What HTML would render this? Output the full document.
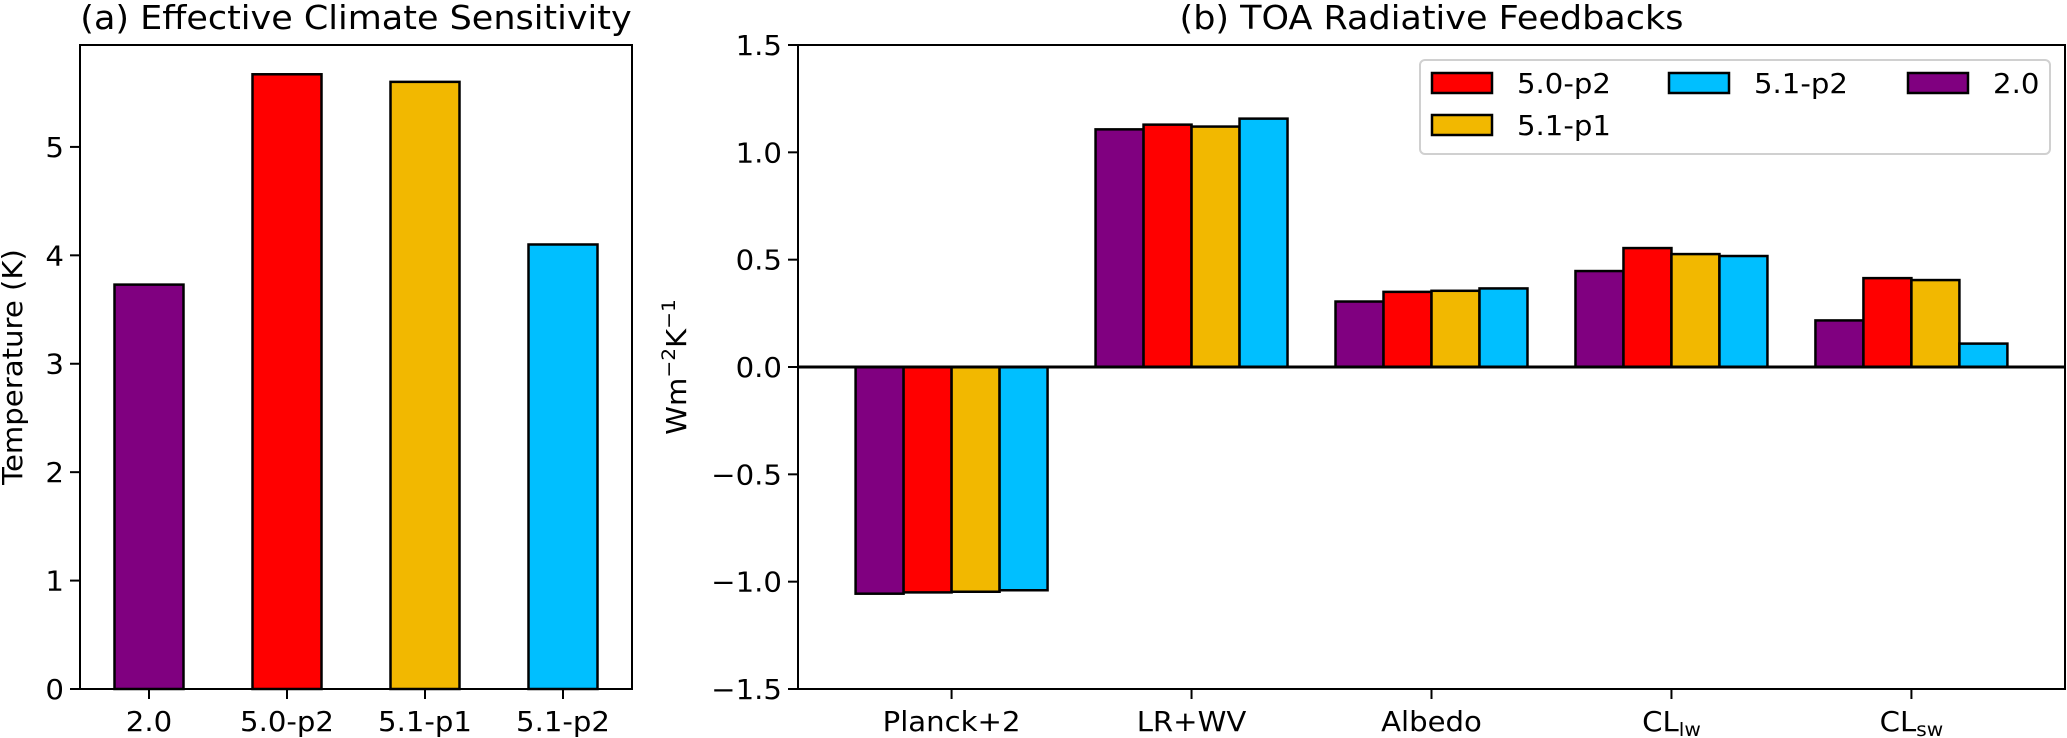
<!DOCTYPE html>
<html><head><meta charset="utf-8"><style>
html,body{margin:0;padding:0;background:#fff}
svg{display:block;font-family:"DejaVu Sans","Liberation Sans",sans-serif}
</style></head><body>
<svg id="fig" width="2067" height="738" xmlns="http://www.w3.org/2000/svg">
<g id="a"></g>
<g id="b"></g>
</svg>
<script>
const ecsCategories = ["2.0","5.0-p2","5.1-p1","5.1-p2"];
const ecsValues = [3.73, 5.67, 5.60, 4.10];
const ecsColors = ["#800080","#ff0000","#f2b800","#00bfff"];
const ecsTicks = [0,1,2,3,4,5];

const fbCategories = ["Planck+2","LR+WV","Albedo","CL_lw","CL_sw"];
const seriesNames = ["2.0","5.0-p2","5.1-p1","5.1-p2"];
const fb20 = [-1.056, 1.107, 0.305, 0.447, 0.217];
const fb50p2 = [-1.05, 1.129, 0.350, 0.554, 0.414];
const fb51p1 = [-1.047, 1.120, 0.355, 0.526, 0.405];
const fb51p2 = [-1.04, 1.157, 0.366, 0.517, 0.109];
const fbTicks = [-1.5,-1.0,-0.5,0.0,0.5,1.0,1.5];
const fbTickLabels = ["\u22121.5","\u22121.0","\u22120.5","0.0","0.5","1.0","1.5"];

const NS="http://www.w3.org/2000/svg";
const stretch=[];
function mk(tag, attrs, parent, text){
  const e=document.createElementNS(NS,tag);
  for(const k in attrs) e.setAttribute(k,attrs[k]);
  if(text!==undefined) e.textContent=text;
  parent.appendChild(e);
  if(tag==='text') stretch.push(e);
  return e;
}
const FS=27.5;
// ---------- Panel A ----------
const A=document.getElementById('a');
const aL=80,aR=632,aT=45,aB=689;
const ax=i=>aL+(i+0.5)/4*(aR-aL);
const ay=v=>aB-v/5.94*(aB-aT);
const bwA=0.5*(aR-aL)/4;
ecsValues.forEach((v,i)=>{
  const r=mk('rect',{x:ax(i)-bwA/2,y:ay(v),width:bwA,height:aB-ay(v),fill:ecsColors[i],stroke:'#000','stroke-width':2.5},A);
  
  
});
mk('rect',{x:aL,y:aT,width:aR-aL,height:aB-aT,fill:'none',stroke:'#000','stroke-width':2,},A);
ecsTicks.forEach(t=>{
  mk('line',{x1:aL-10,x2:aL,y1:ay(t),y2:ay(t),stroke:'#000','stroke-width':2},A);
  const tx=mk('text',{x:aL-16,y:ay(t)+10,'text-anchor':'end','font-size':FS},A,String(t));
  
  
});
ecsCategories.forEach((c,i)=>{
  mk('line',{x1:ax(i),x2:ax(i),y1:aB,y2:aB+10,stroke:'#000','stroke-width':2},A);
  const tx=mk('text',{x:ax(i),y:731,'text-anchor':'middle','font-size':FS},A,c);
  
  
});
mk('text',{x:22,y:367,'text-anchor':'middle','font-size':FS,transform:'rotate(-90 22 367)',},A,'Temperature (K)');
mk('text',{x:(aL+aR)/2,y:29,'text-anchor':'middle','font-size':33,},A,'(a) Effective Climate Sensitivity');

// ---------- Panel B ----------
const B=document.getElementById('b');
const bL=798,bR=2065,bT=45,bB=689;
const xmin=-0.64,xmax=4.64;
const bx=u=>bL+(u-xmin)/(xmax-xmin)*(bR-bL);
const by=v=>bB-(v+1.5)/3*(bB-bT);
const series=[fb20,fb50p2,fb51p1,fb51p2];
const bw=0.2;
series.forEach((s,si)=>{
  s.forEach((v,ci)=>{
    const u0=ci-0.4+si*bw;
    const x0=bx(u0),x1=bx(u0+bw);
    const y0=Math.min(by(v),by(0)),h=Math.abs(by(v)-by(0));
    const r=mk('rect',{x:x0,y:y0,width:x1-x0,height:h,fill:ecsColors[si],stroke:'#000','stroke-width':2.5},B);
    
    
  });
});
mk('line',{x1:bL,x2:bR,y1:by(0),y2:by(0),stroke:'#000','stroke-width':3,},B);
mk('rect',{x:bL,y:bT,width:bR-bL,height:bB-bT,fill:'none',stroke:'#000','stroke-width':2,},B);
fbTicks.forEach((t,i)=>{
  mk('line',{x1:bL-10,x2:bL,y1:by(t),y2:by(t),stroke:'#000','stroke-width':2},B);
  const tx=mk('text',{x:bL-16,y:by(t)+10,'text-anchor':'end','font-size':FS},B,fbTickLabels[i]);
  
  
});
fbCategories.forEach((c,i)=>{
  mk('line',{x1:bx(i),x2:bx(i),y1:bB,y2:bB+10,stroke:'#000','stroke-width':2},B);
  const t=mk('text',{x:bx(i),y:731,'text-anchor':'middle','font-size':FS},B);
  
  
  if(c.indexOf('_')>=0){
    const p=c.split('_');
    mk('tspan',{},t,p[0]);
    mk('tspan',{'font-size':19,dy:5},t,p[1]);
  } else t.textContent=c;
});
const yl=mk('text',{x:686,y:367,'text-anchor':'middle','font-size':FS,transform:'rotate(-90 686 367)',},B);
mk('tspan',{},yl,'Wm');
mk('tspan',{'font-size':19,dy:-11},yl,'\u22122');
mk('tspan',{dy:11},yl,'K');
mk('tspan',{'font-size':19,dy:-11},yl,'\u22121');
mk('text',{x:(bL+bR)/2,y:29,'text-anchor':'middle','font-size':33,},B,'(b) TOA Radiative Feedbacks');

// legend
const lg=mk('g',{},B);
mk('rect',{x:1420,y:60,width:630,height:94,rx:5,fill:'#fff',stroke:'#d0d0d0','stroke-width':2},lg);
const legendOrder=[[1,1432,73],[2,1432,115],[3,1669,73],[0,1908,73]];
legendOrder.forEach(([si,x,y])=>{
  const g=mk('g',{},lg);
  
  
  mk('rect',{x:x,y:y,width:60,height:20,fill:ecsColors[si],stroke:'#000','stroke-width':2.5},g);
  mk('text',{x:x+85,y:y+20,'font-size':FS},g,seriesNames[si]);
});
// widen glyphs slightly to match reference
stretch.forEach(t=>{
  const w=t.getComputedTextLength();
  if(w>0){t.setAttribute('textLength',(w*1.06).toFixed(1));t.setAttribute('lengthAdjust','spacingAndGlyphs');}
});
</script>
</body></html>
